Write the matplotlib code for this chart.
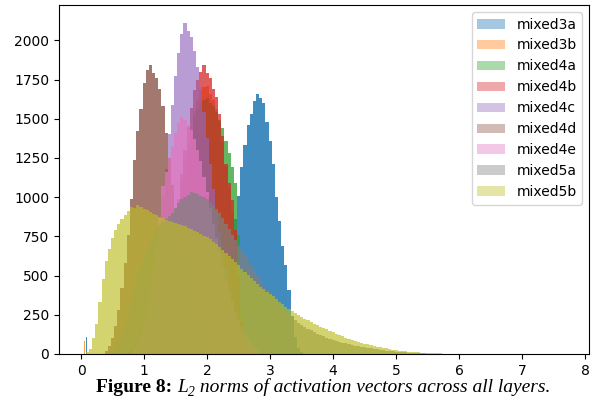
import matplotlib
matplotlib.use("Agg")
import matplotlib.pyplot as plt
from matplotlib.patches import Patch
import numpy as np

# bin width of the histograms (in L2-norm units)
bin_width = 0.05

layers = ["mixed3a", "mixed3b", "mixed4a", "mixed4b", "mixed4c",
          "mixed4d", "mixed4e", "mixed5a", "mixed5b"]

# first bin centre of every layer
starts = [2.15, 1.3, 1.15, 1.25, 0.75, 0.4, 0.85, 0.5, 0.1]

# counts per bin
mixed3a = [30, 60, 140, 290, 460, 640, 860, 1010, 1190, 1330, 1460, 1530, 1610, 1660,
           1630, 1600, 1480, 1360, 1210, 1000, 850, 690, 570, 410, 240, 110, 40, 10]
mixed3b = [120, 200, 310, 470, 650, 820, 1000, 1150, 1300, 1430, 1550, 1620, 1680, 1700,
           1710, 1660, 1620, 1560, 1480, 1350, 1200, 1060, 900, 700, 450, 220, 70, 15]
mixed4a = [110, 200, 290, 400, 500, 610, 740, 870, 990, 1110, 1230, 1340, 1430, 1510,
           1560, 1600, 1620, 1630, 1600, 1580, 1540, 1490, 1440, 1360, 1280, 1190, 1090,
           760, 300, 80, 20]
mixed4b = [90, 150, 260, 400, 590, 800, 980, 1150, 1300, 1450, 1570, 1680, 1750, 1800,
           1840, 1790, 1760, 1690, 1640, 1530, 1390, 1210, 1090, 980, 790, 500, 210, 60, 15]
mixed4c = [15, 30, 55, 90, 140, 200, 280, 380, 500, 650, 820, 1000, 1180, 1400, 1590,
           1770, 1920, 2040, 2110, 2060, 2020, 1930, 1830, 1700, 1540, 1380, 1210, 1050,
           910, 780, 660, 550, 440, 350, 270, 200, 140, 100, 65, 40, 20]
mixed4d = [20, 50, 100, 180, 280, 420, 580, 760, 990, 1240, 1420, 1560, 1730, 1810, 1840,
           1790, 1760, 1690, 1580, 1410, 1250, 1080, 920, 770, 640, 520, 420, 330, 260,
           200, 150, 110, 80, 55, 40, 25, 15]
mixed4e = [40, 80, 130, 200, 290, 400, 530, 680, 870, 1070, 1160, 1250, 1320, 1410, 1470,
           1510, 1490, 1460, 1430, 1370, 1300, 1230, 1130, 1030, 930, 830, 740, 650, 560,
           480, 400, 330, 270, 220, 170, 130, 100, 70, 45, 30]
mixed5a = [20, 45, 80, 130, 200, 270, 350, 430, 500, 560, 620, 670, 720, 760, 790, 820,
           840, 860, 880, 900, 930, 960, 985, 1000, 1015, 1030, 1025, 1020, 1010, 1000,
           985, 970, 950, 925, 900, 865, 830, 795, 760, 725, 690, 660, 630, 595, 560, 530,
           500, 470, 440, 410, 380, 355, 330, 310, 290, 270, 250, 230, 215, 200, 185, 172,
           160, 150, 140, 130, 120, 112, 105, 97, 90, 84, 78, 73, 68, 63, 58, 54, 50, 46,
           42, 38, 35, 32, 29, 26, 24, 21, 19, 17, 15, 13, 11, 10, 9, 8, 7, 6, 5, 4, 3, 3,
           2, 2, 1]
mixed5b = [10, 30, 100, 190, 330, 480, 590, 670, 740, 790, 830, 860, 885, 910, 940, 930,
           950, 935, 925, 915, 905, 895, 885, 875, 865, 855, 845, 840, 835, 830, 820, 815,
           805, 795, 785, 775, 765, 755, 745, 730, 715, 700, 685, 665, 645, 625, 605, 585,
           565, 545, 525, 505, 485, 465, 445, 428, 412, 398, 385, 368, 350, 334, 318, 302,
           287, 273, 260, 248, 236, 225, 214, 204, 194, 184, 175, 166, 157, 148, 138, 129,
           121, 113, 105, 98, 91, 84, 78, 72, 66, 61, 56, 51, 47, 43, 39, 35, 31, 27, 24,
           21, 19, 17, 15, 13, 11, 10, 9, 8, 7, 6, 5, 4, 4, 3, 3, 2, 2, 2, 1]

# a few isolated low-norm bins
outlier_layers = ["mixed3a", "mixed3b"]
outlier_x = [0.08, 0.05]
outlier_counts = [110, 85]

counts = [mixed3a, mixed3b, mixed4a, mixed4b, mixed4c, mixed4d, mixed4e, mixed5a, mixed5b]
colors = ["C%d" % i for i in range(9)]
# thin overlapping bins in the original pile up, so the fills look denser than the legend
alphas = [0.85, 0.75, 0.75, 0.75, 0.65, 0.8, 0.75, 0.7, 0.65]

fig = plt.figure(figsize=(5.92, 3.98), dpi=100)
ax = fig.add_axes([0.0997, 0.1106, 0.8953, 0.8768])

for name, start, vals, c, a in zip(layers, starts, counts, colors, alphas):
    x = start + np.arange(len(vals)) * bin_width
    ax.bar(x, vals, width=bin_width, color=c, alpha=a, linewidth=0)
    if name in outlier_layers:
        k = outlier_layers.index(name)
        ax.bar([outlier_x[k]], [outlier_counts[k]], width=0.015, color=c, alpha=a,
               linewidth=0)

ax.set_xlim(-0.35, 8.06)
ax.set_ylim(0, 2225)
ax.set_xticks(range(0, 9))
ax.set_yticks(range(0, 2001, 250))

handles = [Patch(facecolor=c, alpha=0.4) for c in colors]
ax.legend(handles, layers, loc="upper right")

# caption: bold label, italic text, subscript "2" as its own small text
fs = 14
base = 0.014
serif = "Liberation Serif"
parts = [
    fig.text(0, base, "Figure 8: ", va="baseline", family=serif, weight="bold", fontsize=fs),
    fig.text(0, base, "L", va="baseline", family=serif, style="italic", fontsize=fs),
    fig.text(0, base - 0.009, "2", va="baseline", family=serif, style="italic",
             fontsize=fs * 0.7),
    fig.text(0, base, " norms of activation vectors across all layers.", va="baseline",
             family=serif, style="italic", fontsize=fs),
]
fig.canvas.draw()
r = fig.canvas.get_renderer()
widths = [p.get_window_extent(r).width for p in parts]
x = 323 - sum(widths) / 2
for p, w in zip(parts, widths):
    p.set_x(x / 592)
    x += w

fig.savefig("out.png", dpi=100)
